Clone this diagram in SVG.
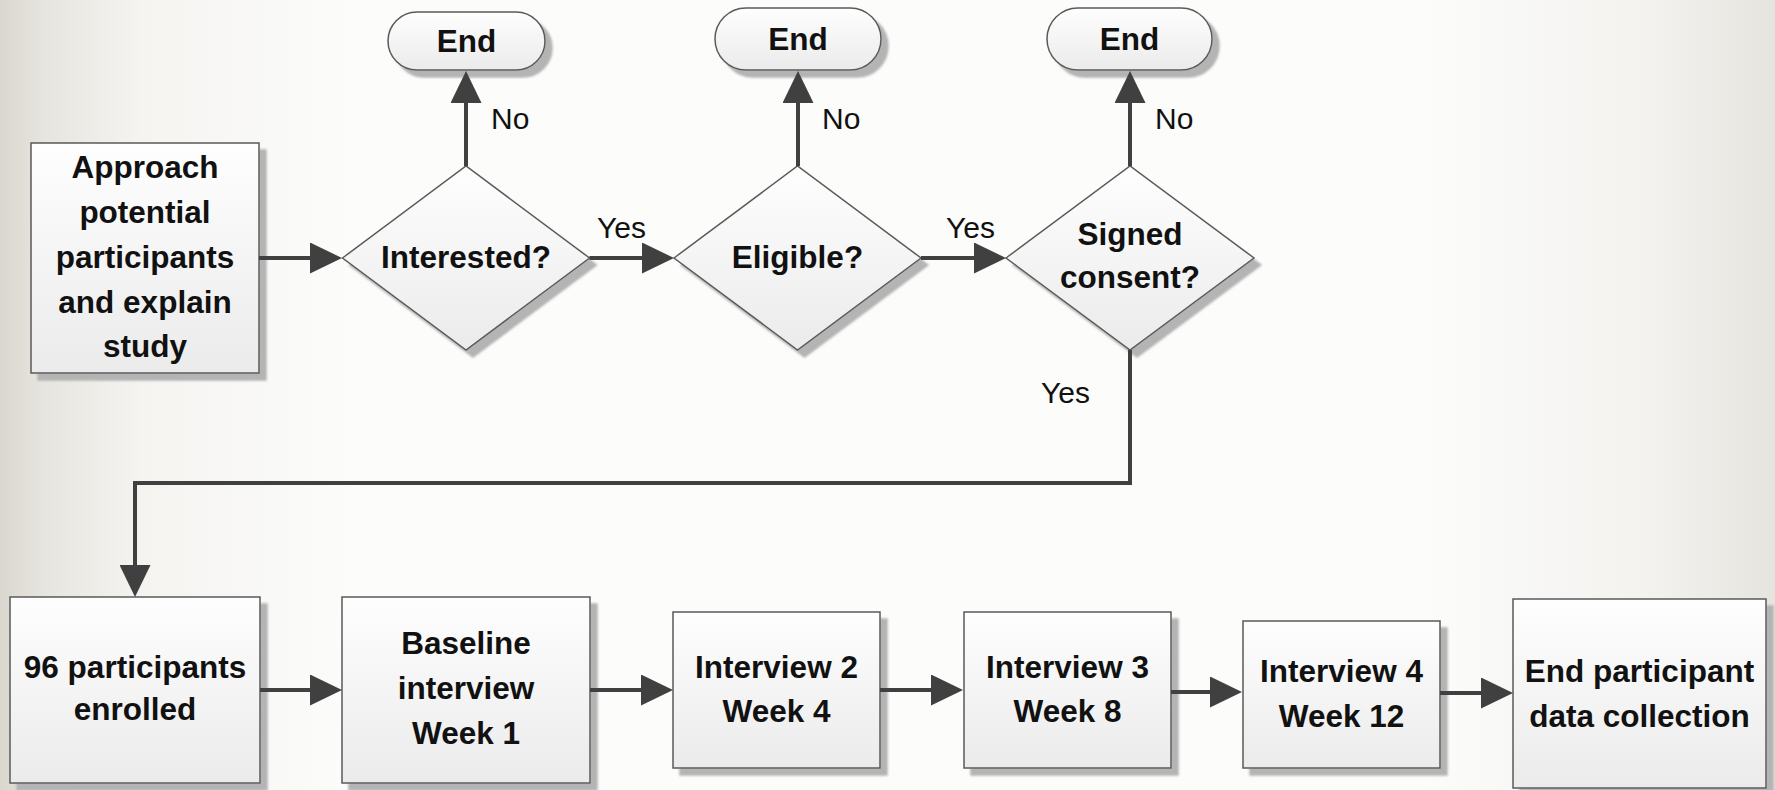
<svg xmlns="http://www.w3.org/2000/svg" width="1775" height="790" viewBox="0 0 1775 790">
  <defs>
    <linearGradient id="bg" x1="0" y1="0" x2="1" y2="0">
      <stop offset="0" stop-color="#dad7cf"/>
      <stop offset="0.025" stop-color="#e7e5df"/>
      <stop offset="0.08" stop-color="#f5f4f1"/>
      <stop offset="0.2" stop-color="#fcfcfb"/>
      <stop offset="0.8" stop-color="#fcfcfb"/>
      <stop offset="0.93" stop-color="#f3f2ef"/>
      <stop offset="1" stop-color="#e6e4de"/>
    </linearGradient>
    <linearGradient id="shapeFill" x1="0" y1="0" x2="0" y2="1">
      <stop offset="0" stop-color="#fefefe"/>
      <stop offset="1" stop-color="#ebebeb"/>
    </linearGradient>
    <filter id="shadow" x="-10%" y="-10%" width="125%" height="125%">
      <feDropShadow dx="7" dy="7" stdDeviation="1.2" flood-color="#b4b4b4" flood-opacity="1"/>
    </filter>
    <marker id="arrow" markerUnits="userSpaceOnUse" markerWidth="32" markerHeight="31" refX="22" refY="15.5" orient="auto">
      <path d="M0,0 L32,15.5 L0,31 Z" fill="#404040"/>
    </marker>
    <style>
      .shape { fill: url(#shapeFill); stroke: #5a5a5a; stroke-width: 1.5; filter: url(#shadow); }
      .label { font-family: "Liberation Sans", Arial, sans-serif; font-weight: bold; font-size: 31.5px; fill: #111; text-anchor: middle; }
      .branch { font-family: "Liberation Sans", Arial, sans-serif; font-size: 30px; fill: #111; }
      .conn { fill: none; stroke: #404040; stroke-width: 4; marker-end: url(#arrow); }
    </style>
  </defs>

  <rect width="1775" height="790" fill="url(#bg)"/>

  <!-- top row -->
  <g id="approach">
    <rect class="shape" x="31" y="143" width="228" height="230"/>
    <text class="label" x="145" y="178">Approach</text>
    <text class="label" x="145" y="223">potential</text>
    <text class="label" x="145" y="268">participants</text>
    <text class="label" x="145" y="313">and explain</text>
    <text class="label" x="145" y="357">study</text>
  </g>

  <g id="interested">
    <polygon class="shape" points="342.5,258 466,166 589.5,258 466,350"/>
    <text class="label" x="466" y="268">Interested?</text>
  </g>

  <g id="eligible">
    <polygon class="shape" points="674,258 797.5,166 921,258 797.5,350"/>
    <text class="label" x="797.5" y="268">Eligible?</text>
  </g>

  <g id="consent">
    <polygon class="shape" points="1006,258 1130,166 1254,258 1130,350"/>
    <text class="label" x="1130" y="245">Signed</text>
    <text class="label" x="1130" y="288">consent?</text>
  </g>

  <g id="end1">
    <rect class="shape" x="388" y="12" width="157" height="58" rx="29" ry="29"/>
    <text class="label" x="466.5" y="52">End</text>
  </g>

  <g id="end2">
    <rect class="shape" x="715" y="8" width="166" height="62" rx="31" ry="31"/>
    <text class="label" x="798" y="50">End</text>
  </g>

  <g id="end3">
    <rect class="shape" x="1047" y="8" width="165" height="62" rx="31" ry="31"/>
    <text class="label" x="1129.5" y="50">End</text>
  </g>

  <!-- bottom row -->
  <g id="enrolled">
    <rect class="shape" x="10" y="597" width="250" height="186"/>
    <text class="label" x="135" y="678">96 participants</text>
    <text class="label" x="135" y="720">enrolled</text>
  </g>

  <g id="baseline">
    <rect class="shape" x="342" y="597" width="248" height="186"/>
    <text class="label" x="466" y="654">Baseline</text>
    <text class="label" x="466" y="699">interview</text>
    <text class="label" x="466" y="744">Week 1</text>
  </g>

  <g id="interview2">
    <rect class="shape" x="673" y="612" width="207" height="156"/>
    <text class="label" x="776.5" y="678">Interview 2</text>
    <text class="label" x="776.5" y="722">Week 4</text>
  </g>

  <g id="interview3">
    <rect class="shape" x="964" y="612" width="207" height="156"/>
    <text class="label" x="1067.5" y="678">Interview 3</text>
    <text class="label" x="1067.5" y="722">Week 8</text>
  </g>

  <g id="interview4">
    <rect class="shape" x="1243" y="621" width="197" height="147"/>
    <text class="label" x="1341.5" y="682">Interview 4</text>
    <text class="label" x="1341.5" y="727">Week 12</text>
  </g>

  <g id="end-collection">
    <rect class="shape" x="1513" y="599" width="253" height="189"/>
    <text class="label" x="1639.5" y="682">End participant</text>
    <text class="label" x="1639.5" y="727">data collection</text>
  </g>

  <!-- connectors, drawn over the node shadows -->
  <g id="connectors">
    <path class="conn" d="M259,258 H332"/>
    <path class="conn" d="M589.5,258 H664"/>
    <path class="conn" d="M921,258 H996"/>
    <path class="conn" d="M466,166 V81"/>
    <path class="conn" d="M798,166 V81"/>
    <path class="conn" d="M1130,166 V81"/>
    <path class="conn" d="M1130,350 V483 H135 V587"/>
    <path class="conn" d="M260,690 H332"/>
    <path class="conn" d="M590,690 H663"/>
    <path class="conn" d="M880,690 H953"/>
    <path class="conn" d="M1171,692 H1232"/>
    <path class="conn" d="M1440,693 H1503"/>
    <text class="branch" x="491" y="129">No</text>
    <text class="branch" x="822" y="129">No</text>
    <text class="branch" x="1155" y="129">No</text>
    <text class="branch" x="597" y="238">Yes</text>
    <text class="branch" x="946" y="238">Yes</text>
    <text class="branch" x="1041" y="403">Yes</text>
  </g>
</svg>
